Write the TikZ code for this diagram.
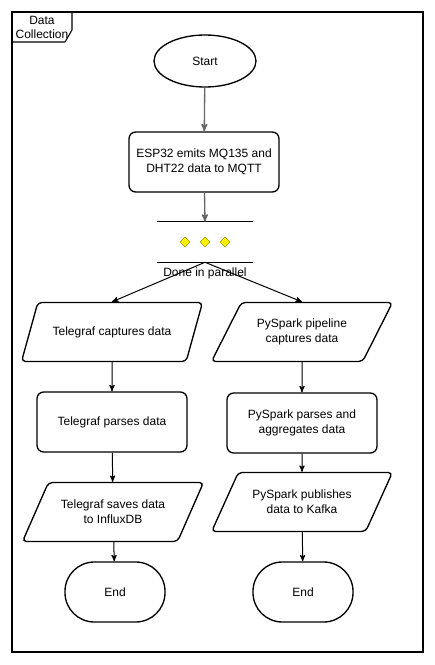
\documentclass[tikz,border=0pt]{standalone}
\usepackage{fontspec}
\setmainfont{Liberation Sans}
\usetikzlibrary{arrows}
\usetikzlibrary{shapes.geometric}
\usetikzlibrary{positioning}
\definecolor{forkline}{RGB}{153,153,0}

\begin{document}
\begin{tikzpicture}[x=0.75pt, y=-0.75pt,
    font=\fontsize{9}{11}\selectfont,
    every node/.style={align=center},
    proc/.style={draw, line width=1pt, rounded corners=5pt, minimum width=112.5pt, minimum height=45pt},
    io/.style={draw, line width=1pt, trapezium, trapezium left angle=55, trapezium right angle=125,
      trapezium stretches=true, rounded corners=3pt, minimum width=135.75pt, minimum height=44.25pt},
    term/.style={draw, line width=1pt, rounded corners=22pt, minimum width=75pt, minimum height=45pt},
    dot/.style={diamond, draw=forkline, fill=yellow, inner sep=0pt, minimum size=7.5pt},
    flow/.style={-stealth', line width=0.75pt},
    greyflow/.style={-stealth', line width=1pt, draw=black!60},
  ]
    \useasboundingbox (0,0) rectangle (435,665);

    % frame with its tab
    \draw[line width=0.8pt] (12,12) rectangle (423,652);
    \draw[line width=0.8pt] (12,42) -- (65,42) -- (72,30) -- (72,12);
    \node (frame) at (42,27.5) {Data\\Collection};

    \node[ellipse, draw, line width=1pt, minimum width=76.5pt, minimum height=39pt] (start) at (205,61) {Start};
    \node[proc] (esp) at (204,162) {ESP32 emits MQ135 and\\DHT22 data to MQTT};

    % parallel bar
    \node[minimum width=71.25pt, minimum height=30pt, inner sep=0pt] (fork) at (205,242) {};
    \draw[line width=0.8pt] (fork.north west) -- (fork.north east);
    \draw[line width=0.8pt] (fork.south west) -- (fork.south east);
    \node[dot] (dota) at (185,242) {};
    \node[dot] (dotb) at (205,242) {};
    \node[dot] (dotc) at (225,242) {};
    \node (forklabel) at (205,273) {Done in parallel};

    % Telegraf branch
    \node[io] (tcap) at (112,332) {Telegraf captures data};
    \node[proc] (tparse) at (112,422) {Telegraf parses data};
    \node[io] (tsave) at (113,512) {Telegraf saves data\\to InfluxDB};
    \node[term] (tend) at (115,592) {End};

    % PySpark branch
    \node[io] (pcap) at (302,332) {PySpark pipeline\\captures data};
    \node[proc] (pparse) at (302,423) {PySpark parses and\\aggregates data};
    \node[io] (ppub) at (302,502) {PySpark publishes\\data to Kafka};
    \node[term] (pend) at (303,592) {End};

    \draw[greyflow] (start) -- (esp);
    \draw[greyflow] (esp) -- (fork.north);
    \draw[flow] (fork.south) -- (tcap.north);
    \draw[flow] (fork.south) -- (pcap.north);
    \draw[flow] (tcap) -- (tparse);
    \draw[flow] (tparse) -- (tsave);
    \draw[flow] (tsave) -- (tend);
    \draw[flow] (pcap) -- (pparse);
    \draw[flow] (pparse) -- (ppub);
    \draw[flow] (ppub) -- (pend);
  \end{tikzpicture}
\end{document}
